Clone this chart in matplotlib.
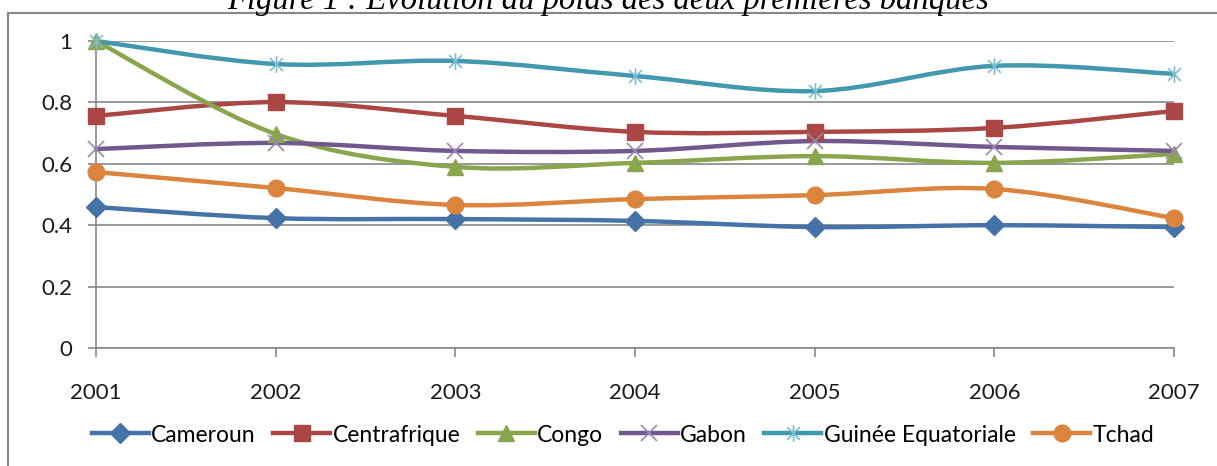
import numpy as np
import matplotlib
matplotlib.use("Agg")
import matplotlib.pyplot as plt
from matplotlib.path import Path
from matplotlib.patches import PathPatch, Rectangle
from matplotlib.lines import Line2D

plt.rcParams['font.family'] = ['Lato', 'DejaVu Sans']

years = [2001, 2002, 2003, 2004, 2005, 2006, 2007]
cameroun = [0.459, 0.423, 0.420, 0.414, 0.394, 0.400, 0.394]
centrafrique = [0.756, 0.801, 0.756, 0.704, 0.704, 0.717, 0.772]
congo = [1.000, 0.697, 0.590, 0.603, 0.625, 0.603, 0.632]
gabon = [0.648, 0.668, 0.642, 0.642, 0.674, 0.655, 0.642]
guinee = [1.000, 0.925, 0.935, 0.886, 0.837, 0.919, 0.893]
tchad = [0.573, 0.521, 0.466, 0.485, 0.498, 0.518, 0.423]

names = ["Cameroun", "Centrafrique", "Congo", "Gabon", "Guinée Equatoriale", "Tchad"]
series = [cameroun, centrafrique, congo, gabon, guinee, tchad]
colors = ["#4572A7", "#AA4643", "#89A54E", "#71588F", "#4198AF", "#DB843D"]

# Excel style star: x plus vertical bar
star = Path([(-1, -1), (1, 1), (-1, 1), (1, -1), (0, -1.3), (0, 1.3)],
            [Path.MOVETO, Path.LINETO] * 3)
markers = [
    dict(marker="D", ms=10, mfc=colors[0], mec=colors[0]),
    dict(marker="s", ms=12, mfc=colors[1], mec=colors[1]),
    dict(marker="^", ms=12, mfc=colors[2], mec=colors[2]),
    dict(marker="x", ms=12, mec="#9A88B5", mew=1.2),
    dict(marker=star, ms=12, mfc="none", mec="#7DBDD0", mew=1.2),
    dict(marker="o", ms=12, mfc=colors[5], mec=colors[5]),
]


def smooth_path(xs, ys):
    pts = np.column_stack([xs, ys]).astype(float)
    n = len(pts)
    verts = [pts[0]]
    codes = [Path.MOVETO]
    for i in range(n - 1):
        p0 = pts[max(i - 1, 0)]
        p1 = pts[i]
        p2 = pts[i + 1]
        p3 = pts[min(i + 2, n - 1)]
        c1 = p1 + (p2 - p0) / 6.0
        c2 = p2 - (p3 - p1) / 6.0
        verts += [c1, c2, p2]
        codes += [Path.CURVE4] * 3
    return Path(verts, codes)


fig = plt.figure(figsize=(12.17, 4.66), dpi=100)
ax = fig.add_axes([96 / 1217, 1 - 348 / 466, (1174 - 96) / 1217, (348 - 41) / 466])

for vals, col, mk in zip(series, colors, markers):
    patch = PathPatch(smooth_path(years, vals), fill=False, edgecolor=col,
                      lw=3.2, transform=ax.transData, clip_on=False,
                      capstyle="round", joinstyle="round", zorder=3)
    ax.add_patch(patch)
    ax.plot(years, vals, linestyle="none", clip_on=False, zorder=4, **mk)

ax.set_xlim(2001, 2007)
ax.set_ylim(0, 1)
ax.set_xticks(years)
ax.set_xticklabels([str(y) for y in years])
ax.set_yticks([0, 0.2, 0.4, 0.6, 0.8, 1])
ax.set_yticklabels(["0", "0.2", "0.4", "0.6", "0.8", "1"])
ax.grid(axis="y", color="#878787", lw=1.2)
ax.set_axisbelow(True)
for s in ["top", "right"]:
    ax.spines[s].set_visible(False)
for s in ["left", "bottom"]:
    ax.spines[s].set_color("#878787")
    ax.spines[s].set_linewidth(1.2)
ax.tick_params(axis="x", length=6.5, width=1.2, color="#878787", pad=19,
               labelsize=16, labelcolor="#1a1a1a")
ax.tick_params(axis="y", length=6, width=1.2, color="#878787", pad=11,
               labelsize=16, labelcolor="#1a1a1a")

handles = [Line2D([0], [0], color=c, lw=3.2, **m) for c, m in zip(colors, markers)]
fig.legend(handles, names, loc="center", bbox_to_anchor=(623 / 1217, 1 - 435 / 466),
           ncol=6, frameon=False, fontsize=16.5, handlelength=2.5, handletextpad=0.1,
           columnspacing=0.75, borderaxespad=0)

fig.patches.append(Rectangle((8 / 1217, -0.01), 1.1, 1 - 13 / 466 + 0.01,
                             transform=fig.transFigure, fill=False,
                             edgecolor="#878787", lw=1.5))
fig.text(0.5, 1 - 9 / 466, "Figure 1 : Evolution du poids des deux premières banques",
         ha="center", va="baseline", fontsize=23.5, style="italic",
         family="Liberation Serif")

fig.savefig("out.png", dpi=100)
